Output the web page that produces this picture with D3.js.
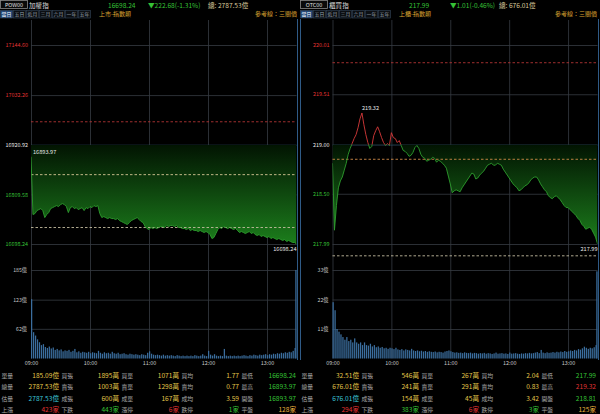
<!DOCTYPE html>
<html><head><meta charset="utf-8">
<script src="https://cdn.jsdelivr.net/npm/d3@7"></script>
<style>
html,body{margin:0;padding:0;background:#000;}
svg{display:block;}
text{font-family:"Noto Sans CJK TC","Noto Sans",sans-serif;}
</style></head><body>
<svg id="c" width="600" height="414"></svg>
<script>
// ---------- shared ----------
const timeLabels = ["09:00","10:00","11:00","12:00","13:00"];
const timeMinutes = [0,60,120,180,240];
const tabLabels = ["當日","五日","近月","三月","六月","一年","五年"];
const tableLabels = [
  ["單量","買張","買單","買均","最低"],
  ["總量","賣張","賣單","賣均","最高"],
  ["估量","成張","成單","成均","開盤"],
  ["上漲","下跌","漲停","跌停","平盤"]
];

// ---------- 加權指 (POW00) ----------
const twiiCode = "POW00", twiiName = "加權指", twiiMarket = "上市-指數類";
const twiiLast = "16698.24", twiiChange = "▼222.68(-1.31%)", twiiTotal = "2787.53億";
const twiiRef = 16920.92;
const twiiGrid = [17144.60, 17032.26, 16920.92, 16809.58, 16698.24];
const twiiGuides = [16972.4, 16853.8, 16735.2];
const twiiVolTicks = [62, 123, 185];
const twiiHigh = 16893.97, twiiLow = 16698.24;
// price every 2 minutes from 09:00 to 13:30
const twiiPrice = [
16893.97,16764.3,16766.5,16773.2,16775.4,16777.7,16773.2,16757.5,16764.3,16768.7,
16777.7,16779.9,16782.2,16784.4,16782.2,16786.6,16788.9,16786.6,16782.2,16768.7,
16779.9,16782.2,16777.7,16779.9,16775.4,16777.7,16779.9,16773.2,16779.9,16777.7,
16782.2,16779.9,16784.4,16782.2,16784.4,16766.5,16757.5,16759.8,16757.5,16755.3,
16757.5,16755.3,16755.3,16753.1,16755.3,16750.8,16748.6,16746.3,16744.1,16741.9,
16746.3,16750.8,16753.1,16755.3,16757.5,16753.1,16748.6,16746.3,16737.4,16732.9,
16730.7,16735.2,16732.9,16735.2,16732.9,16735.2,16737.4,16737.4,16735.2,16739.6,
16737.4,16739.6,16739.6,16737.4,16739.6,16735.2,16735.2,16732.9,16732.9,16730.7,
16732.9,16728.5,16730.7,16728.5,16728.5,16726.2,16728.5,16726.2,16724.0,16726.2,
16724.0,16719.5,16710.5,16712.8,16721.7,16730.7,16735.2,16732.9,16737.4,16735.2,
16732.9,16735.2,16732.9,16730.7,16732.9,16728.5,16724.0,16726.2,16724.0,16721.7,
16724.0,16726.2,16721.7,16724.0,16719.5,16717.3,16719.5,16715.0,16717.3,16715.0,
16712.8,16715.0,16710.5,16712.8,16710.5,16708.3,16710.5,16708.3,16706.1,16708.3,
16703.8,16706.1,16703.8,16701.6,16701.6,16698.24];
// volume (億) every 2 minutes, last = closing
const twiiVolume = [
124,55,48,40,34,28,30,24,22,25,21,23,18,20,17,19,15,17,16,18,
14,16,20,13,15,12,14,13,12,14,11,13,12,11,16,12,10,13,11,12,
10,14,11,10,12,9,10,11,9,8,10,9,8,9,8,7,9,8,7,12,
15,10,8,7,8,7,6,8,6,7,6,7,6,5,7,6,5,6,5,6,
5,6,5,7,6,5,6,9,6,5,16,8,6,9,6,5,6,5,20,6,
5,6,5,6,5,6,5,6,7,6,5,7,6,8,7,6,8,7,8,9,
7,9,8,10,9,11,10,12,11,13,12,14,13,16,22,185.09];
const twiiTable = [
  ["185.09億","1895萬","1071萬","1.77","16698.24"],
  ["2787.53億","1003萬","1298萬","0.77","16893.97"],
  ["2787.53億","600萬","167萬","3.59","16893.97"],
  ["423家","443家","6家","1家","128家"]
];

// ---------- 櫃買指 (OTC00) ----------
const otcCode = "OTC00", otcName = "櫃買指", otcMarket = "上櫃-指數類";
const otcLast = "217.99", otcChange = "▼1.01(-0.46%)", otcTotal = "676.01億";
const otcRef = 219.00;
const otcGrid = [220.01, 219.51, 219.00, 218.50, 217.99];
const otcGuides = [219.83, 218.85, 217.87];
const otcVolTicks = [11, 22, 33];
const otcHigh = 219.32, otcLow = 217.99;
const otcPrice = [
218.81,218.13,218.38,218.56,218.63,218.67,218.74,218.81,218.90,218.96,
219.01,219.06,219.10,219.17,219.26,219.32,219.20,219.10,219.02,218.96,
218.98,219.09,219.14,219.18,219.13,219.07,219.02,218.99,219.01,218.99,
219.12,219.07,219.06,219.02,219.04,218.99,218.94,218.93,218.91,218.88,
218.89,218.92,218.97,218.99,218.96,218.90,218.87,218.86,218.83,218.84,
218.85,218.87,218.86,218.82,218.84,218.83,218.81,218.79,218.76,218.68,
218.60,218.51,218.53,218.54,218.53,218.52,218.56,218.59,218.62,218.65,
218.68,218.71,218.70,218.65,218.66,218.69,218.71,218.73,218.76,218.79,
218.80,218.81,218.79,218.79,218.81,218.80,218.79,218.75,218.72,218.69,
218.66,218.63,218.60,218.58,218.56,218.53,218.54,218.56,218.58,218.59,
218.61,218.64,218.66,218.67,218.67,218.64,218.60,218.57,218.54,218.52,
218.48,218.46,218.45,218.47,218.48,218.46,218.44,218.41,218.38,218.36,
218.36,218.34,218.32,218.30,218.28,218.25,218.23,218.19,218.17,218.14,
218.15,218.16,218.14,218.10,218.06,217.99];
const otcVolume = [
21,18,11,10,9,8,7,8,6.5,7,6,7.5,6,5.5,6,5,6,5,4.8,5.5,
4.5,5,4.2,4.5,4,4.3,3.8,4,3.6,4,3.8,3.5,4,3.4,3.2,3.5,3,3.4,3.2,3,
3.6,3,2.8,3,2.7,2.9,2.6,2.8,2.5,2.7,2.5,2.4,2.6,2.3,2.5,2.4,2.2,2.6,2.8,3,
2.7,2.4,2.2,2.3,2.1,2.2,2,2.3,2.1,2,2.2,1.9,2.1,2,1.8,2,1.9,2.1,1.8,2,
1.9,1.7,1.9,2.2,1.8,1.9,2,1.8,1.9,1.7,2.2,1.8,1.9,2,1.8,1.7,1.9,1.8,2,1.9,
2.1,1.9,2,2.2,2.4,2,3.2,2.2,2,2.3,2.1,2.2,2.4,2.2,2.5,2.3,2.6,2.4,2.8,2.5,
2.7,3,2.8,3.2,3,3.5,3.3,3.8,4.4,4,3.6,4,3.8,4.2,5,32.51];
const otcTable = [
  ["32.51億","546萬","267萬","2.04","217.99"],
  ["676.01億","241萬","291萬","0.83","219.32"],
  ["676.01億","154萬","45萬","3.42","218.81"],
  ["294家","383家","6家","3家","125家"]
];

// ---------- drawing ----------
const svg = d3.select("#c");
svg.append("rect").attr("width",600).attr("height",414).attr("fill","#000");
const defs = svg.append("defs");

const C = {
  grid:"#363b42", refGrid:"#34506c", label:"#a8a8a8", white:"#e8e8e8",
  up:"#e03434", down:"#36c236", gold:"#d9a230", vol:"#e3c64a", cyan:"#3cc6d8",
  flat:"#e8b23e", bar:"#3b6e9e", border:"#2f5a86"
};

function panel(o){
  const id = o.id;
  const g = svg.append("g");
  const x = d3.scaleLinear().domain([0,270]).range([o.x0, o.x1]);
  const y = d3.scaleLinear().domain([o.grid[4], o.grid[0]]).range([244,45]);
  const yv = d3.scaleLinear().domain([0, o.volTicks[2]]).range([358.5,270]);
  const L = o.left;

  // ---- header ----
  g.append("rect").attr("x",L+0.5).attr("y",0.5).attr("width",27).attr("height",8)
    .attr("fill","#0a0a0a").attr("stroke","#8a8a8a").attr("stroke-width",0.8);
  g.append("text").attr("x",L+14).attr("y",6.8).attr("text-anchor","middle")
    .attr("font-size",5.4).attr("fill","#e0e0e0").text(o.code);
  g.append("text").attr("x",L+29).attr("y",7.6).attr("font-size",6.6).attr("fill","#d8d8d8").text(o.name);
  g.append("text").attr("x",L+o.hx[0]).attr("y",7.6).attr("font-size",6.6).attr("fill",C.down).text(o.last);
  g.append("text").attr("x",L+o.hx[1]).attr("y",7.6).attr("font-size",6.6).attr("fill",C.down).text(o.change);
  g.append("text").attr("x",L+o.hx[2]).attr("y",7.6).attr("font-size",6.6).attr("fill","#dccb9c").text("總: "+o.total);

  const tabs = g.append("g");
  tabLabels.forEach((t,i)=>{
    tabs.append("rect").attr("x",L+0.5+i*13).attr("y",10.5).attr("width",12).attr("height",7.5)
      .attr("fill", i===0?"#24497a":"#0c0f13").attr("stroke","#34465a").attr("stroke-width",0.6);
    tabs.append("text").attr("x",L+6.5+i*13).attr("y",16.1).attr("text-anchor","middle")
      .attr("font-size",4.9).attr("fill", i===0?"#ffffff":"#9aa4ae").text(t);
  });
  g.append("text").attr("x",L+99).attr("y",16.3).attr("font-size",6).attr("fill",C.gold).text(o.market);
  g.append("text").attr("x",L+297).attr("y",16.3).attr("text-anchor","end").attr("font-size",6).attr("fill",C.gold).text("參考線：三關價");

  // ---- vertical grid + time axis ----
  const xAxis = d3.axisBottom(x).tickValues(timeMinutes).tickFormat((d,i)=>timeLabels[i])
    .tickSize(-(358.5-20)).tickPadding(2.5);
  const xa = g.append("g").attr("transform","translate(0,358.5)").call(xAxis);
  xa.select(".domain").remove();
  xa.selectAll("line").attr("stroke",C.grid).attr("stroke-width",0.8);
  xa.selectAll("text").attr("fill","#c8c8c8").attr("font-size",5.4)
    .attr("font-family","'Noto Sans CJK TC',sans-serif");

  // ---- horizontal price grid ----
  const yAxis = d3.axisLeft(y).tickValues(o.grid).tickFormat(d=>d.toFixed(2))
    .tickSize(-(o.x1-o.x0)).tickPadding(3);
  const ya = g.append("g").attr("transform",`translate(${o.x0},0)`).call(yAxis);
  ya.select(".domain").remove();
  ya.selectAll("line").attr("stroke",d=>d===o.ref?C.refGrid:C.grid).attr("stroke-width",0.8);
  ya.selectAll("text").attr("font-size",5.4).attr("font-family","'Noto Sans CJK TC',sans-serif")
    .attr("fill",d=>d>o.ref?C.up:(d<o.ref?C.down:C.white));

  // ---- volume grid ----
  const vAxis = d3.axisLeft(yv).tickValues(o.volTicks).tickFormat(d=>d+"億")
    .tickSize(-(o.x1-o.x0)).tickPadding(4);
  const va = g.append("g").attr("transform",`translate(${o.x0},0)`).call(vAxis);
  va.select(".domain").remove();
  va.selectAll("line").attr("stroke",C.grid).attr("stroke-width",0.8);
  va.selectAll("text").attr("font-size",5.2).attr("fill","#c8c8c8")
    .attr("font-family","'Noto Sans CJK TC',sans-serif");

  // ---- area fill below reference ----
  const yRef = y(o.ref);
  const grad = defs.append("linearGradient").attr("id","gr"+id)
    .attr("gradientUnits","userSpaceOnUse").attr("x1",0).attr("x2",0).attr("y1",yRef).attr("y2",y(o.grid[4]));
  grad.append("stop").attr("offset",0).attr("stop-color","#021402");
  grad.append("stop").attr("offset",1).attr("stop-color","#1c7e1c");
  defs.append("clipPath").attr("id","below"+id).append("rect")
    .attr("x",o.x0).attr("y",yRef).attr("width",o.x1-o.x0).attr("height",258-yRef);
  defs.append("clipPath").attr("id","above"+id).append("rect")
    .attr("x",o.x0).attr("y",20).attr("width",o.x1-o.x0).attr("height",yRef-20);

  const area = d3.area().x((d,i)=>x(i*2)).y0(yRef).y1(d=>y(d));
  g.append("path").datum(o.price).attr("d",area).attr("fill","url(#gr"+id+")")
    .attr("clip-path","url(#below"+id+")");

  // ---- guide (三關價) dashed lines ----
  g.selectAll(".guide").data(o.guides).enter().append("line")
    .attr("x1",o.x0).attr("x2",o.x1).attr("y1",d=>y(d)).attr("y2",d=>y(d))
    .attr("stroke",(d,i)=>o.guideColors[i]).attr("stroke-width",0.9).attr("stroke-dasharray","2.5,2");

  // ---- price line ----
  const line = d3.line().x((d,i)=>x(i*2)).y(d=>y(d));
  g.append("path").datum(o.price).attr("d",line).attr("fill","none")
    .attr("stroke","#2f9e2f").attr("stroke-width",0.9).attr("clip-path","url(#below"+id+")");
  g.append("path").datum(o.price).attr("d",line).attr("fill","none")
    .attr("stroke","#d83a3a").attr("stroke-width",0.9).attr("clip-path","url(#above"+id+")");

  // high / low labels
  const hi = o.price.indexOf(o.high), lo = o.price.lastIndexOf(o.low);
  g.append("text").attr("x",x(hi*2)+(hi===0?2:0)).attr("y",y(o.high)-2.5)
    .attr("font-size",5.6).attr("fill",C.white).text(o.high.toFixed(2));
  g.append("text").attr("x",x(lo*2)).attr("y",y(o.low)+6.5).attr("text-anchor","end")
    .attr("font-size",5.6).attr("fill",C.white).text(o.low.toFixed(2));

  // ---- volume bars ----
  g.selectAll(".vb").data(o.volume).enter().append("rect")
    .attr("x",(d,i)=>x(i*2)-(i===o.volume.length-1?1.2:0))
    .attr("y",d=>yv(d)).attr("width",1.25).attr("height",d=>358.5-yv(d))
    .attr("fill",C.bar);

  // ---- panel borders ----
  o.borders.forEach(bx=>{
    g.append("line").attr("x1",bx).attr("x2",bx).attr("y1",19).attr("y2",360)
      .attr("stroke",C.border).attr("stroke-width",1);
  });

  // ---- table ----
  const rowsY = [377.5, 389, 400.5, 412];
  const valColor = (r,c,v)=>{
    if (r===3) return [C.up,C.down,C.up,C.down,C.flat][c];
    if (c===0) return r===2?C.cyan:C.vol;
    if (c===4) return parseFloat(v)>o.ref?C.up:(parseFloat(v)<o.ref?C.down:C.white);
    return C.vol;
  };
  tableLabels.forEach((row,r)=>{
    row.forEach((lab,c)=>{
      const cx = L + c*60;
      g.append("text").attr("x",cx+1.5).attr("y",rowsY[r]).attr("font-size",5.8)
        .attr("fill",C.label).text(lab);
      const v = o.table[r][c];
      g.append("text").attr("x",cx+(c===4?296:59)-(c===4?c*60:0)).attr("y",rowsY[r])
        .attr("text-anchor","end").attr("font-size",6.6)
        .attr("fill",valColor(r,c,v)).text(v);
    });
  });
}

panel({id:"a", left:0, x0:31, x1:296.5, code:twiiCode, name:twiiName, market:twiiMarket,
  last:twiiLast, change:twiiChange, total:twiiTotal, hx:[108,148,208],
  ref:twiiRef, grid:twiiGrid, guides:twiiGuides, guideColors:["#b23434","#d6c694","#c4bca0"],
  volTicks:twiiVolTicks, price:twiiPrice, volume:twiiVolume, high:twiiHigh, low:twiiLow,
  table:twiiTable, borders:[297.5]});

panel({id:"b", left:300, x0:332.5, x1:597.5, code:otcCode, name:otcName, market:otcMarket,
  last:otcLast, change:otcChange, total:otcTotal, hx:[109,150,199],
  ref:otcRef, grid:otcGrid, guides:otcGuides, guideColors:["#b23434","#d08a4a","#c4bca0"],
  volTicks:otcVolTicks, price:otcPrice, volume:otcVolume, high:otcHigh, low:otcLow,
  table:otcTable, borders:[300.5, 598.5]});
</script>
</body></html>
